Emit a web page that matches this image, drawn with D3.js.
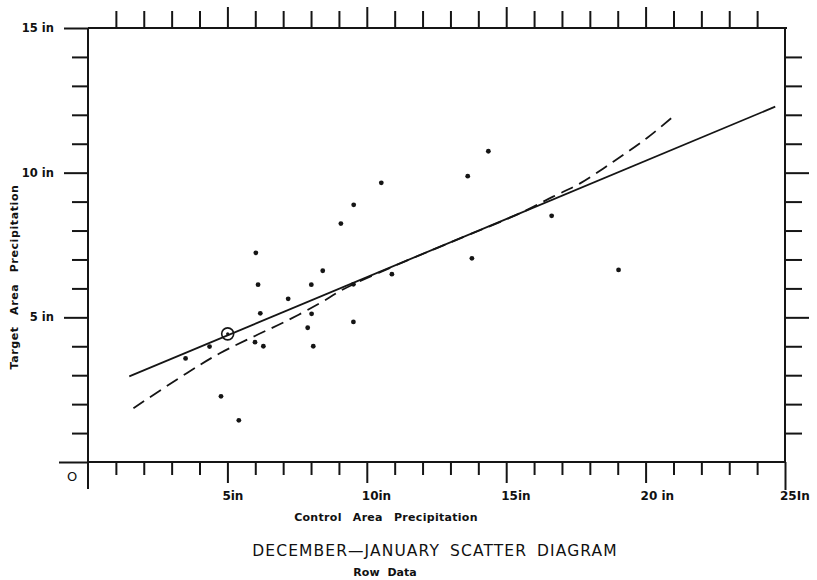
<!DOCTYPE html>
<html>
<head>
<meta charset="utf-8">
<script src="https://cdn.jsdelivr.net/npm/d3@7"></script>
<style>
  html, body { margin: 0; padding: 0; background: #fff; }
  svg { display: block; }
  text { fill: #111; font-family: "DejaVu Sans", sans-serif; }
</style>
</head>
<body>
<svg id="chart" width="817" height="580"></svg>
<script>
// Control-area vs target-area precipitation (inches), Dec–Jan
const controlIn = [3.50, 4.36, 4.77, 5.41, 5.99, 6.29, 6.18, 6.02, 6.10, 8.42, 8.01, 7.18, 8.02,
                   7.88, 8.08, 9.52, 10.90, 9.07, 9.53, 10.52, 13.62, 14.36, 16.63, 13.77, 19.03, 9.52];
const targetIn  = [3.58, 3.99, 2.27, 1.44, 4.14, 4.00, 5.14, 7.23, 6.13, 6.61, 6.13, 5.64, 5.12,
                   4.64, 4.00, 4.84, 6.49, 8.24, 8.89, 9.65, 9.88, 10.74, 8.51, 7.04, 6.64, 6.14];

// circled point (means)
const meanPoint = [5.01, 4.43];

// straight regression line endpoints
const lineX = [1.48, 24.65];
const lineY = [2.96, 12.28];

// curved (dashed) regression
const curveX = [1.63, 3.54, 4.73, 5.93, 7.13, 8.32, 9.16, 11.0, 13.0, 15.5, 16.68, 17.65, 18.84, 20.04, 21.05];
const curveY = [1.86, 3.07, 3.76, 4.33, 4.88, 5.49, 5.97, 6.78, 7.59, 8.60, 9.17, 9.63, 10.38, 11.19, 11.99];

const xTickLabels = ["5in", "10in", "15in", "20 in", "25In"];
const xTickValues = [5, 10, 15, 20, 25];
const yTickLabels = ["5 in", "10 in", "15 in"];
const yTickValues = [5, 10, 15];

const svg = d3.select("#chart");
const x = d3.scaleLinear().domain([0, 25]).range([88, 785]);
const y = d3.scaleLinear().domain([0, 15]).range([462, 28]);

const ink = "#151515";
const minorX = d3.range(1, 25).filter(v => v % 5 !== 0);
const majorX = [5, 10, 15, 20];
const minorY = d3.range(1, 15).filter(v => v % 5 !== 0);
const majorY = [5, 10];

function styleAxis(g) {
  g.select(".domain").remove();
  g.selectAll(".tick line").attr("stroke", ink).attr("stroke-width", 2);
  g.selectAll(".tick text").remove();
}

// bottom ticks (downward)
svg.append("g").attr("transform", `translate(0,${y(0)})`)
  .call(d3.axisBottom(x).tickValues(minorX).tickSize(13)).call(styleAxis);
svg.append("g").attr("transform", `translate(0,${y(0)})`)
  .call(d3.axisBottom(x).tickValues(majorX).tickSize(21)).call(styleAxis);
svg.append("g").attr("transform", `translate(0,${y(0)})`)
  .call(d3.axisBottom(x).tickValues([25]).tickSize(28)).call(styleAxis);

// top ticks (upward)
svg.append("g").attr("transform", `translate(0,${y(15)})`)
  .call(d3.axisTop(x).tickValues(minorX).tickSize(17)).call(styleAxis);
svg.append("g").attr("transform", `translate(0,${y(15)})`)
  .call(d3.axisTop(x).tickValues(majorX).tickSize(21)).call(styleAxis);

// left ticks (outward)
svg.append("g").attr("transform", `translate(${x(0)},0)`)
  .call(d3.axisLeft(y).tickValues(minorY).tickSize(16)).call(styleAxis);
svg.append("g").attr("transform", `translate(${x(0)},0)`)
  .call(d3.axisLeft(y).tickValues([5, 10, 15]).tickSize(24)).call(styleAxis);
svg.append("g").attr("transform", `translate(${x(0)},0)`)
  .call(d3.axisLeft(y).tickValues([0]).tickSize(29)).call(styleAxis);

// right ticks (outward)
svg.append("g").attr("transform", `translate(${x(25)},0)`)
  .call(d3.axisRight(y).tickValues(minorY).tickSize(17)).call(styleAxis);
svg.append("g").attr("transform", `translate(${x(25)},0)`)
  .call(d3.axisRight(y).tickValues(majorY).tickSize(24)).call(styleAxis);

// frame
const frame = svg.append("g").attr("stroke", ink).attr("stroke-width", 2).attr("fill", "none");
frame.append("line").attr("x1", x(0)).attr("x2", x(0)).attr("y1", y(15)).attr("y2", y(0) + 27);
frame.append("line").attr("x1", x(0)).attr("x2", x(25)).attr("y1", y(0)).attr("y2", y(0));
frame.append("line").attr("x1", x(0)).attr("x2", x(25) + 2).attr("y1", y(15)).attr("y2", y(15));
frame.append("line").attr("x1", x(25)).attr("x2", x(25)).attr("y1", y(15)).attr("y2", y(0));

// tick labels
svg.append("g").selectAll("text").data(xTickValues).join("text")
  .attr("x", d => x(d) - 5).attr("y", y(0) + 38)
  .attr("font-size", 12).attr("font-weight", 700)
  .text((d, i) => xTickLabels[i]);
svg.append("g").selectAll("text").data(yTickValues).join("text")
  .attr("x", 54).attr("y", d => y(d) + 4)
  .attr("text-anchor", "end")
  .attr("font-size", 11.5).attr("font-weight", 700)
  .text((d, i) => yTickLabels[i]);
svg.append("text").attr("x", 72).attr("y", y(0) + 19)
  .attr("text-anchor", "middle").attr("font-size", 13).text("O");

// axis titles
svg.append("text").attr("x", 386).attr("y", 521)
  .attr("text-anchor", "middle").attr("font-size", 11).attr("font-weight", 700)
  .attr("word-spacing", 7).attr("letter-spacing", 0.3).text("Control Area Precipitation");
svg.append("text").attr("transform", `translate(18,277) rotate(-90)`)
  .attr("text-anchor", "middle").attr("font-size", 11).attr("font-weight", 700)
  .attr("letter-spacing", 0.6).attr("word-spacing", 7).text("Target Area Precipitation");

// titles
svg.append("text").attr("x", 435).attr("y", 556)
  .attr("text-anchor", "middle").attr("font-size", 15.5)
  .attr("letter-spacing", 1.1).attr("word-spacing", 4)
  .text("DECEMBER\u2014JANUARY SCATTER DIAGRAM");
svg.append("text").attr("x", 385).attr("y", 576)
  .attr("text-anchor", "middle").attr("font-size", 11).attr("font-weight", 700)
  .attr("word-spacing", 4).text("Row Data");

// straight line
svg.append("line")
  .attr("x1", x(lineX[0])).attr("y1", y(lineY[0]))
  .attr("x2", x(lineX[1])).attr("y2", y(lineY[1]))
  .attr("stroke", ink).attr("stroke-width", 1.8);

// dashed curve
const curvePts = curveX.map((v, i) => [v, curveY[i]]);
svg.append("path")
  .attr("d", d3.line().x(d => x(d[0])).y(d => y(d[1])).curve(d3.curveCatmullRom)(curvePts))
  .attr("fill", "none").attr("stroke", ink).attr("stroke-width", 1.8)
  .attr("stroke-dasharray", "13,7");

// points
svg.append("g").selectAll("circle").data(controlIn.map((v, i) => [v, targetIn[i]])).join("circle")
  .attr("cx", d => x(d[0])).attr("cy", d => y(d[1])).attr("r", 2.4).attr("fill", ink);

// mean point, circled
svg.append("circle").attr("cx", x(meanPoint[0])).attr("cy", y(meanPoint[1])).attr("r", 1.6).attr("fill", ink);
svg.append("circle").attr("cx", x(meanPoint[0])).attr("cy", y(meanPoint[1])).attr("r", 6)
  .attr("fill", "none").attr("stroke", ink).attr("stroke-width", 1.6);
</script>
</body>
</html>
